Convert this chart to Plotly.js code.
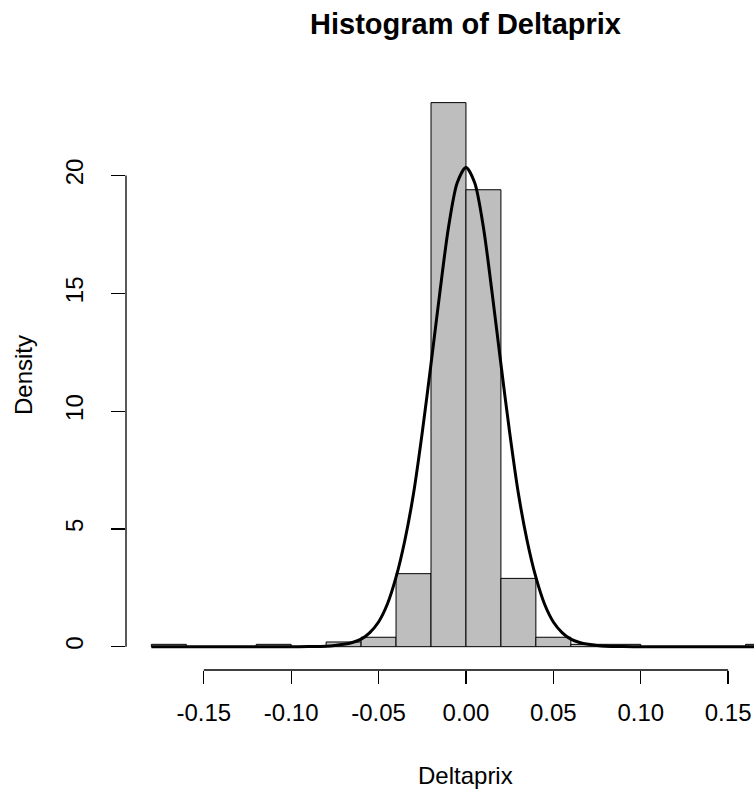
<!DOCTYPE html>
<html>
<head>
<meta charset="utf-8">
<script src="https://cdn.plot.ly/plotly-3.0.1.min.js"></script>
<style>html,body{margin:0;padding:0;background:#fff;}#chart{width:754px;height:790px;}</style>
</head>
<body>
<div id="chart"></div>
<script>
// Histogram bin breaks and densities
const breaks = [-0.18,-0.16,-0.14,-0.12,-0.10,-0.08,-0.06,-0.04,-0.02,0.00,0.02,0.04,0.06,0.08,0.10,0.12,0.14,0.16,0.18];
const density = [0.1,0,0,0.1,0,0.2,0.4,3.1,23.1,19.4,2.9,0.4,0.1,0.1,0,0,0,0.1];

// Overlaid density curve
const curveX = [-0.18,-0.12,-0.10,-0.09,-0.08,-0.075,-0.07,-0.065,-0.06,-0.055,-0.05,-0.045,-0.04,-0.035,-0.03,-0.025,-0.02,-0.015,-0.01,-0.005,0,0.005,0.01,0.015,0.02,0.025,0.03,0.035,0.04,0.045,0.05,0.055,0.06,0.065,0.07,0.075,0.08,0.09,0.10,0.12,0.18];
const curveY = [0,0,0,0.005,0.02,0.05,0.1,0.18,0.32,0.6,1.05,1.8,2.95,4.5,6.5,9.1,12.0,15.0,17.8,19.7,20.35,19.7,17.8,15.0,12.0,9.1,6.5,4.5,2.95,1.8,1.05,0.6,0.32,0.18,0.1,0.05,0.02,0.005,0,0,0];

const xTicks = [-0.15,-0.10,-0.05,0.00,0.05,0.10,0.15];
const xTickText = ["-0.15","-0.10","-0.05","0.00","0.05","0.10","0.15"];
const yTicks = [0,5,10,15,20];
const yTickText = ["0","5","10","15","20"];

const titleText = "Histogram of Deltaprix";
const xTitle = "Deltaprix";
const yTitle = "Density";

const centers = [], widths = [];
for (let i = 0; i < density.length; i++) {
  centers.push((breaks[i] + breaks[i+1]) / 2);
  widths.push(breaks[i+1] - breaks[i]);
}

const FONT = "Liberation Sans, Arial, Helvetica, sans-serif";

const traces = [
  {
    type: 'bar', x: centers, y: density, width: widths,
    marker: {color: '#BEBEBE', line: {color: '#000000', width: 1}},
    hoverinfo: 'skip'
  },
  {
    type: 'scatter', mode: 'lines', x: curveX, y: curveY,
    line: {color: '#000000', width: 3, shape: 'spline', smoothing: 0.8},
    hoverinfo: 'skip'
  }
];

const layout = {
  width: 754, height: 790,
  margin: {l: 126, r: 0, t: 80, b: 120, pad: 0},
  paper_bgcolor: '#ffffff', plot_bgcolor: '#ffffff',
  showlegend: false,
  bargap: 0,
  font: {family: FONT, size: 24, color: '#000000'},
  title: {
    text: '<b>' + titleText + '</b>',
    font: {family: FONT, size: 29, color: '#000000'},
    xref: 'container', yref: 'container',
    x: 465.5/754, xanchor: 'center',
    y: 1 - 24/790, yanchor: 'middle'
  },
  xaxis: {
    range: [-0.1945, 0.1648],
    showgrid: false, zeroline: false, showline: false,
    tickmode: 'array', tickvals: xTicks, ticktext: xTickText,
    ticks: 'outside', ticklen: 13, tickwidth: 1.3, tickcolor: '#000000',
    tickfont: {family: FONT, size: 24, color: '#000000'},
    ticklabelstandoff: 8
  },
  yaxis: {
    range: [-0.99, 24.06],
    showgrid: false, zeroline: false, showline: false,
    tickmode: 'array', tickvals: yTicks, ticktext: yTickText,
    ticks: 'outside', ticklen: 14, tickwidth: 1.3, tickcolor: '#000000',
    tickangle: -90,
    tickfont: {family: FONT, size: 24, color: '#000000'},
    ticklabelstandoff: 18
  },
  shapes: [
    {type: 'line', xref: 'x', yref: 'paper',
     x0: Math.min(...xTicks), x1: Math.max(...xTicks), y0: 0, y1: 0,
     line: {color: '#000000', width: 1.3}},
    {type: 'line', xref: 'paper', yref: 'y',
     x0: 0, x1: 0, y0: Math.min(...yTicks), y1: Math.max(...yTicks),
     line: {color: '#000000', width: 1.3}}
  ],
  annotations: [
    {text: xTitle, xref: 'paper', yref: 'paper', x: (465-126)/628, y: -(775-670)/590,
     xanchor: 'center', yanchor: 'middle', showarrow: false,
     font: {family: FONT, size: 24, color: '#000000'}},
    {text: yTitle, xref: 'paper', yref: 'paper', x: -(126-23)/628, y: 0.5,
     xanchor: 'center', yanchor: 'middle', showarrow: false, textangle: -90,
     font: {family: FONT, size: 24, color: '#000000'}}
  ]
};

Plotly.newPlot('chart', traces, layout, {displayModeBar: false, staticPlot: true});
</script>
</body>
</html>
